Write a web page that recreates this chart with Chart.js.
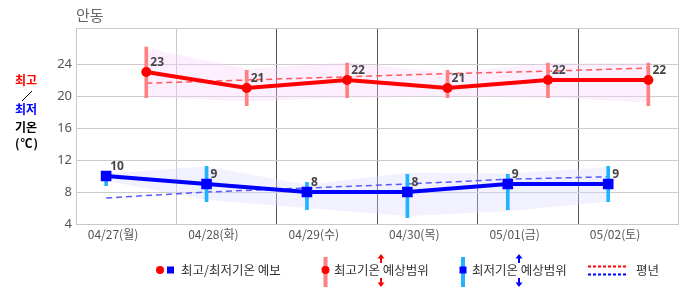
<!DOCTYPE html>
<html>
<head>
<meta charset="UTF-8">
<title>안동 기온 예보</title>
<script src="https://cdn.jsdelivr.net/npm/chart.js"></script>
<style>
    body { margin: 0; background: #fff; font-family: "Noto Sans CJK KR", sans-serif; }
    #wrap { position: relative; width: 686px; height: 295px; overflow: hidden; }
    #chart { position: absolute; left: 0; top: 0; }
    .abs { position: absolute; white-space: nowrap; }
    #title { left: 76px; top: 4px; font-size: 15px; color: #666; }
    .ylab { left: 15px; font-size: 12px; font-weight: bold; line-height: 14px; }
    .leg { top: 261px; font-size: 12.5px; line-height: 17px; color: #333; }
</style>
</head>
<body>
<div id="wrap">
    <canvas id="chart" width="686" height="295"></canvas>
    <div class="abs" id="title">안동</div>

    <!-- 왼쪽 축 제목 -->
    <div class="abs ylab" style="top:73px;color:#f00">최고</div>
    <svg class="abs" style="left:20px;top:89px" width="14" height="13"><line x1="2" y1="12" x2="12" y2="2" stroke="#000" stroke-width="1"/></svg>
    <div class="abs ylab" style="top:102px;color:#00f">최저</div>
    <div class="abs ylab" style="top:120px;color:#000">기온</div>
    <div class="abs ylab" style="top:136px;color:#000;letter-spacing:1px">(℃)</div>

    <!-- 범례 -->
    <svg class="abs" style="left:150px;top:254px" width="480" height="36">
        <circle cx="10" cy="16" r="4" fill="#f00"/>
        <rect x="17" y="12.5" width="7" height="7" fill="#00f"/>

        <rect x="173.5" y="3" width="4" height="30" fill="#ff8080"/>
        <circle cx="175.5" cy="16" r="4" fill="#f00"/>
        <line x1="231" y1="3" x2="231" y2="9" stroke="#f00" stroke-width="2"/>
        <path d="M227.5 4.5 L231 0 L234.5 4.5 Z" fill="#f00"/>
        <line x1="231" y1="24" x2="231" y2="30" stroke="#f00" stroke-width="2"/>
        <path d="M227.5 28.5 L231 33 L234.5 28.5 Z" fill="#f00"/>

        <rect x="311" y="3" width="4" height="30" fill="#1eb4ff"/>
        <rect x="309.5" y="12.5" width="7" height="7" fill="#00f"/>
        <line x1="369" y1="3" x2="369" y2="9" stroke="#00f" stroke-width="2"/>
        <path d="M365.5 4.5 L369 0 L372.5 4.5 Z" fill="#00f"/>
        <line x1="369" y1="24" x2="369" y2="30" stroke="#00f" stroke-width="2"/>
        <path d="M365.5 28.5 L369 33 L372.5 28.5 Z" fill="#00f"/>

        <line x1="438" y1="12.5" x2="476" y2="12.5" stroke="#f00" stroke-width="2" stroke-dasharray="3,2"/>
        <line x1="438" y1="20.5" x2="476" y2="20.5" stroke="#00f" stroke-width="2" stroke-dasharray="3,2"/>
    </svg>
    <div class="abs leg" style="left:181px">최고/최저기온 예보</div>
    <div class="abs leg" style="left:334px">최고기온 예상범위</div>
    <div class="abs leg" style="left:472px">최저기온 예상범위</div>
    <div class="abs leg" style="left:636px">평년</div>
</div>

<script>
    // 날짜, 예보값
    const days = ['04/27(월)', '04/28(화)', '04/29(수)', '04/30(목)', '05/01(금)', '05/02(토)'];
    const maxTemp = [23, 21, 22, 21, 22, 22];
    const minTemp = [10, 9, 8, 8, 9, 9];

    // 예상범위 (막대)
    const maxRangeHi = [26.1, 23.2, 24.1, 23.2, 24.1, 24.1];
    const maxRangeLo = [19.8, 18.8, 19.8, 19.8, 19.8, 18.8];
    const minRangeHi = [10.1, 11.2, 9.2, 10.2, 10.2, 11.2];
    const minRangeLo = [8.8, 6.8, 5.8, 4.8, 5.8, 6.8];

    // 음영 구간
    const maxBandHi = [26.0, 23.4, 24.2, 22.9, 24.1, 24.1];
    const maxBandLo = [19.9, 19.3, 19.8, 19.9, 19.8, 19.2];
    const minBandHi = [10.3, 11.2, 8.9, 10.4, 10.3, 11.1];
    const minBandLo = [9.4, 7.0, 6.0, 5.0, 5.6, 6.8];

    // 평년값
    const normalMax = [21.6, 22.0, 22.4, 22.8, 23.1, 23.5];
    const normalMin = [7.25, 8.0, 8.5, 9.0, 9.6, 9.9];

    // 축
    const yTicks = [4, 8, 12, 16, 20, 24];
    const yMin = 4, yMax = 28.5;

    const MAX_POS = 0.7, MIN_POS = 0.3; // 하루 칸 안에서 최고/최저 위치
    const at = (arr, p) => arr.map((v, i) => ({ x: i + p, y: v }));
    const span = (lo, hi, p) => lo.map((v, i) => ({ x: i + p, y: [v, hi[i]] }));

    const valueLabels = {
        id: 'valueLabels',
        afterDatasetsDraw(chart) {
            const ctx = chart.ctx;
            ctx.save();
            ctx.font = 'bold 12px "Noto Sans"';
            ctx.fillStyle = '#444';
            ctx.textBaseline = 'middle';
            [0, 1].forEach(di => {
                const ds = chart.data.datasets[di];
                chart.getDatasetMeta(di).data.forEach((pt, i) => {
                    ctx.fillText(String(ds.data[i].y), pt.x + 4, pt.y - 9);
                });
            });
            ctx.restore();
        }
    };

    new Chart(document.getElementById('chart'), {
        type: 'line',
        data: {
            datasets: [
                { label: '최고기온', data: at(maxTemp, MAX_POS), borderColor: '#f00', backgroundColor: '#f00',
                  borderWidth: 4, pointRadius: 5, pointBorderWidth: 0, pointStyle: 'circle', order: 0 },
                { label: '최저기온', data: at(minTemp, MIN_POS), borderColor: '#00f', backgroundColor: '#00f',
                  borderWidth: 4, pointRadius: 7.5, pointBorderWidth: 0, pointStyle: 'rect', order: 0 },
                { type: 'bar', label: '최고기온 예상범위', data: span(maxRangeLo, maxRangeHi, MAX_POS),
                  backgroundColor: '#ff8080', barThickness: 3, grouped: false, order: 1 },
                { type: 'bar', label: '최저기온 예상범위', data: span(minRangeLo, minRangeHi, MIN_POS),
                  backgroundColor: '#1eb4ff', barThickness: 3, grouped: false, order: 1 },
                { label: '평년 최고', data: at(normalMax, MAX_POS), borderColor: '#ff5a5a', borderWidth: 1.5,
                  borderDash: [6, 4], pointRadius: 0, order: 2 },
                { label: '평년 최저', data: at(normalMin, MIN_POS), borderColor: '#5a5aff', borderWidth: 1.5,
                  borderDash: [6, 4], pointRadius: 0, order: 2 },
                { label: 'maxBandHi', data: at(maxBandHi, MAX_POS), borderWidth: 0, pointRadius: 0,
                  fill: '+1', backgroundColor: 'rgba(248,205,248,0.33)', order: 3 },
                { label: 'maxBandLo', data: at(maxBandLo, MAX_POS), borderWidth: 0, pointRadius: 0, order: 3 },
                { label: 'minBandHi', data: at(minBandHi, MIN_POS), borderWidth: 0, pointRadius: 0,
                  fill: '+1', backgroundColor: 'rgba(215,215,255,0.35)', order: 3 },
                { label: 'minBandLo', data: at(minBandLo, MIN_POS), borderWidth: 0, pointRadius: 0, order: 3 }
            ]
        },
        options: {
            responsive: false,
            devicePixelRatio: 1,
            animation: false,
            layout: { padding: { top: 28, right: 4, left: 0, bottom: 0 } },
            plugins: { legend: { display: false }, tooltip: { enabled: false } },
            scales: {
                x: {
                    type: 'linear',
                    min: 0,
                    max: days.length,
                    offset: false,
                    afterFit: s => { s.height = 71; },
                    afterBuildTicks: s => { s.ticks = days.concat(['']).map((d, i) => ({ value: i })); },
                    grid: {
                        drawTicks: false,
                        offset: false,
                        color: c => (c.tick && c.tick.value >= 2 && c.tick.value <= days.length - 1) ? '#555' : '#c8c8c8'
                    },
                    border: { color: '#c8c8c8' },
                    ticks: {
                        autoSkip: false,
                        maxRotation: 0,
                        labelOffset: 37,
                        padding: 3,
                        color: '#555',
                        font: { size: 12, family: '"Noto Sans CJK KR"' },
                        callback: v => days[v] || ''
                    }
                },
                y: {
                    min: yMin,
                    max: yMax,
                    afterFit: s => { s.width = 76; },
                    afterBuildTicks: s => {
                        const t = [];
                        for (let v = yMin; v < yMax - 1; v += 2) t.push({ value: v });
                        t.push({ value: yMax });
                        s.ticks = t;
                    },
                    grid: { drawTicks: false, color: '#cccccc' },
                    border: { color: '#c8c8c8' },
                    ticks: {
                        padding: 4,
                        color: '#555',
                        font: { size: 13, family: '"Noto Sans"' },
                        callback: v => yTicks.includes(v) ? v : ''
                    }
                }
            }
        },
        plugins: [valueLabels]
    });
</script>
</body>
</html>
